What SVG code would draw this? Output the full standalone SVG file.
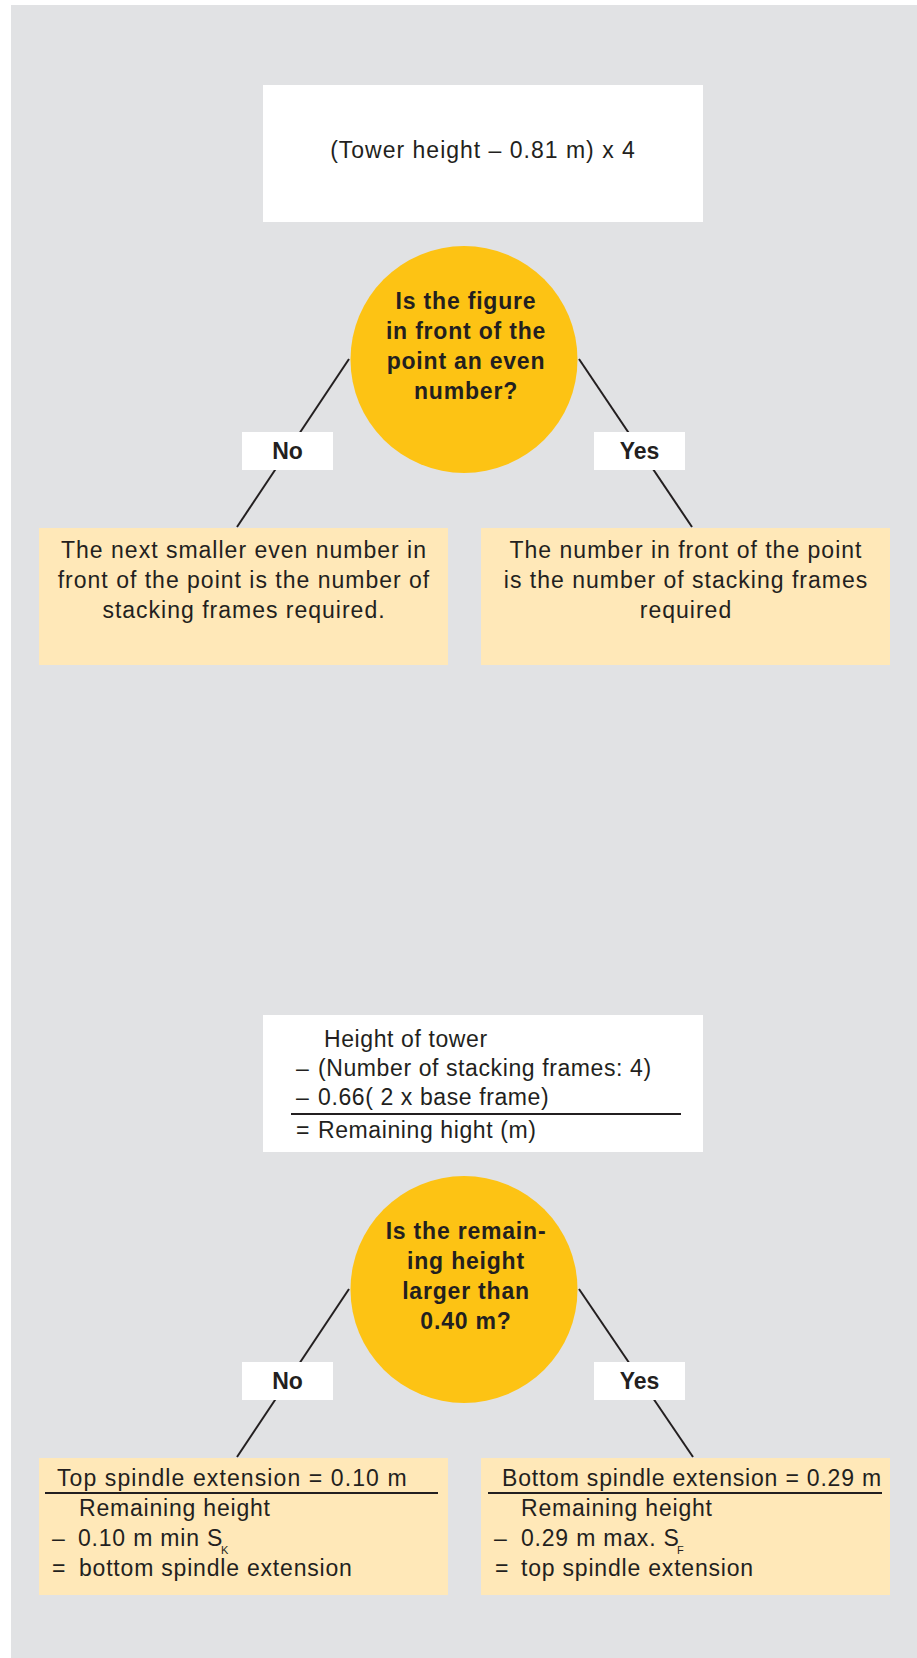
<svg xmlns="http://www.w3.org/2000/svg" width="917" height="1658" viewBox="0 0 917 1658">
<style>
.bg{fill:#E1E2E4}
.white{fill:#FFFFFF}
.dec{fill:#FDC314}
.res{fill:#FFE8B8}
.ln{stroke:#231F20;stroke-width:2;fill:none}
.t{font-family:"Liberation Sans",Arial,sans-serif;font-size:23px;fill:#231F20;letter-spacing:0.8px}
.tw{letter-spacing:1px}
.tn{letter-spacing:0.6px}
.b{font-family:"Liberation Sans",Arial,sans-serif;font-size:23px;font-weight:bold;fill:#231F20;letter-spacing:0.8px}
.lbl{font-family:"Liberation Sans",Arial,sans-serif;font-size:23px;font-weight:bold;fill:#231F20}
.sub{font-family:"Liberation Sans",Arial,sans-serif;font-size:11px;fill:#231F20}
.c{text-anchor:middle}
</style>
<rect class="bg" x="11" y="5" width="906" height="1653"/>

<g id="connectors">
<line class="ln" x1="349" y1="359" x2="237" y2="527"/>
<line class="ln" x1="579" y1="359" x2="692" y2="527"/>
<line class="ln" x1="349" y1="1289" x2="237" y2="1457"/>
<line class="ln" x1="579" y1="1289" x2="693" y2="1457"/>
</g>

<g id="start">
<rect class="white" x="263" y="85" width="440" height="137"/>
<text class="t tw c" x="483" y="158">(Tower height – 0.81 m) x 4</text>
</g>

<g id="decision1">
<circle class="dec" cx="464" cy="359.5" r="113.5"/>
<text class="b c" x="466" y="309">Is the figure</text>
<text class="b c" x="466" y="339">in front of the</text>
<text class="b c" x="466" y="369">point an even</text>
<text class="b c" x="466" y="399">number?</text>
</g>

<g id="no1">
<rect class="white" x="242" y="432" width="91" height="38"/>
<text class="lbl c" x="287.5" y="459">No</text>
</g>
<g id="yes1">
<rect class="white" x="594" y="432" width="91" height="38"/>
<text class="lbl c" x="639.5" y="459">Yes</text>
</g>

<g id="result-no1">
<rect class="res" x="39" y="528" width="409" height="137"/>
<text class="t tw c" x="244" y="558">The next smaller even number in</text>
<text class="t tw c" x="244" y="588">front of the point is the number of</text>
<text class="t tw c" x="244" y="618">stacking frames required.</text>
</g>
<g id="result-yes1">
<rect class="res" x="481" y="528" width="409" height="137"/>
<text class="t tw c" x="686" y="558">The number in front of the point</text>
<text class="t tw c" x="686" y="588">is the number of stacking frames</text>
<text class="t tw c" x="686" y="618">required</text>
</g>

<g id="calc">
<rect class="white" x="263" y="1015" width="440" height="137"/>
<text class="t tn" x="324" y="1047">Height of tower</text>
<text class="t tn" x="296" y="1076">–</text>
<text class="t tn" x="318" y="1076">(Number of stacking frames: 4)</text>
<text class="t tn" x="296" y="1105">–</text>
<text class="t tn" x="318" y="1105">0.66( 2 x base frame)</text>
<line class="ln" x1="291" y1="1114" x2="681" y2="1114" stroke-width="1.2"/>
<text class="t tn" x="296" y="1138">=</text>
<text class="t tn" x="318" y="1138">Remaining hight (m)</text>
</g>

<g id="decision2">
<circle class="dec" cx="464" cy="1289.5" r="113.5"/>
<text class="b c" x="466" y="1239">Is the remain-</text>
<text class="b c" x="466" y="1269">ing height</text>
<text class="b c" x="466" y="1299">larger than</text>
<text class="b c" x="466" y="1329">0.40 m?</text>
</g>

<g id="no2">
<rect class="white" x="242" y="1362" width="91" height="38"/>
<text class="lbl c" x="287.5" y="1389">No</text>
</g>
<g id="yes2">
<rect class="white" x="594" y="1362" width="91" height="38"/>
<text class="lbl c" x="639.5" y="1389">Yes</text>
</g>

<g id="result-no2">
<rect class="res" x="39" y="1458" width="409" height="137"/>
<text class="t" x="57" y="1486" style="letter-spacing:1.1px">Top spindle extension = 0.10 m</text>
<line class="ln" x1="45" y1="1493" x2="438" y2="1493" stroke-width="1.2"/>
<text class="t" x="79" y="1516">Remaining height</text>
<text class="t" x="52" y="1546">–</text>
<text class="t" x="78" y="1546">0.10 m min S</text>
<text class="sub" x="221" y="1554">K</text>
<text class="t" x="52" y="1576">=</text>
<text class="t" x="79" y="1576">bottom spindle extension</text>
</g>
<g id="result-yes2">
<rect class="res" x="481" y="1458" width="409" height="137"/>
<text class="t" x="502" y="1486">Bottom spindle extension = 0.29 m</text>
<line class="ln" x1="488" y1="1493" x2="882" y2="1493" stroke-width="1.2"/>
<text class="t" x="521" y="1516">Remaining height</text>
<text class="t" x="494" y="1546">–</text>
<text class="t" x="521" y="1546">0.29 m max. S</text>
<text class="sub" x="677" y="1554">F</text>
<text class="t" x="495" y="1576">=</text>
<text class="t" x="521" y="1576">top spindle extension</text>
</g>
</svg>
